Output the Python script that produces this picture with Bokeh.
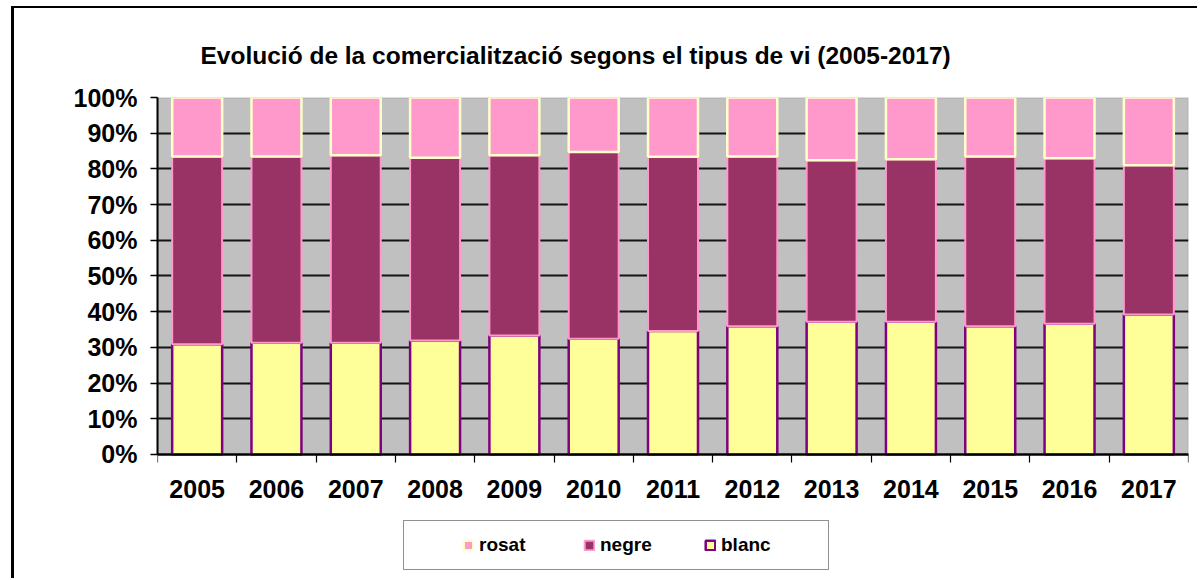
from bokeh.plotting import figure
from bokeh.models import (Range1d, FixedTicker, Legend, LegendItem, BoxAnnotation,
                          PrintfTickFormatter, ColumnDataSource)
from bokeh.embed import file_html
from bokeh.resources import INLINE

# ---- data (percent shares) ----
years = ["2005", "2006", "2007", "2008", "2009", "2010", "2011",
         "2012", "2013", "2014", "2015", "2016", "2017"]
blanc = [30.9, 31.3, 31.3, 31.9, 33.3, 32.4, 34.6, 35.9, 37.2, 37.2, 35.9, 36.6, 39.2]
negre = [52.6, 52.2, 52.5, 51.2, 50.5, 52.3, 48.8, 47.6, 45.2, 45.5, 47.6, 46.4, 41.8]
rosat = [16.5, 16.5, 16.2, 16.9, 16.2, 15.3, 16.6, 16.5, 17.6, 17.3, 16.5, 17.0, 19.0]
y_ticks = [0, 10, 20, 30, 40, 50, 60, 70, 80, 90, 100]
title_text = "Evolució de la comercialització segons el tipus de vi (2005-2017)"
series = ["blanc", "negre", "rosat"]

FONT = "Liberation Sans"

n = len(years)
xs = list(range(n))
source = ColumnDataSource(dict(x=xs, blanc=blanc, negre=negre, rosat=rosat))

# frame runs from the top of the plot area down to the bottom of the canvas,
# so the legend (below the plot area) lives inside the frame
p = figure(width=1186, height=572, output_backend="svg", toolbar_location=None,
           x_range=Range1d(-0.5, n - 0.5), y_range=Range1d(-35.3, 100),
           min_border_left=143, min_border_right=12, min_border_top=89,
           min_border_bottom=0)
p.styles = {"border-left": "3px solid black", "border-top": "2px solid black",
            "margin-left": "11px", "margin-top": "6px"}
p.background_fill_color = "white"
p.border_fill_color = "white"
p.outline_line_color = None

# plot area (0-100 %) grey background with grey top/right edge
p.add_layout(BoxAnnotation(bottom=0, top=100, fill_color="#C0C0C0", fill_alpha=1,
                           line_color="#808080", line_width=2, level="image"))

# title
p.title.text = title_text
p.title.align = "left"
p.title.offset = 43
p.title.standoff = 58
p.title.text_font = FONT
p.title.text_font_style = "bold"
p.title.text_font_size = "24.5px"
p.title.text_color = "black"

renderers = p.vbar_stack(series, x="x", width=0.63, source=source,
                         fill_color=["#FFFF99", "#993366", "#FF99CC"],
                         line_color=["#800080", "#FF99CC", "#FFFFCC"],
                         line_width=[2.5, 2, 2.5])

# y axis
p.yaxis.ticker = FixedTicker(ticks=y_ticks)
p.yaxis.bounds = (0, 100)
p.yaxis.formatter = PrintfTickFormatter(format="%d%%")
p.yaxis.axis_line_color = "black"
p.yaxis.axis_line_width = 2
p.yaxis.major_tick_out = 7
p.yaxis.major_tick_in = 0
p.yaxis.major_tick_line_width = 1.5
p.yaxis.minor_tick_line_color = None
p.yaxis.major_label_standoff = 13
p.yaxis.major_label_text_font = FONT
p.yaxis.major_label_text_font_style = "bold"
p.yaxis.major_label_text_font_size = "25px"
p.yaxis.major_label_text_color = "black"

# x axis (drawn at 0 %)
p.xaxis.fixed_location = 0
p.xaxis.ticker = FixedTicker(ticks=xs, minor_ticks=[i - 0.5 for i in range(n + 1)])
p.xaxis.major_label_overrides = {i: y for i, y in enumerate(years)}
p.xaxis.axis_line_color = "black"
p.xaxis.axis_line_width = 2
p.xaxis.major_tick_line_color = None
p.xaxis.major_tick_out = 0
p.xaxis.major_tick_in = 0
p.xaxis.minor_tick_out = 8
p.xaxis.minor_tick_in = 0
p.xaxis.minor_tick_line_color = "black"
p.xaxis.minor_tick_line_width = 1.2
p.xaxis.major_label_standoff = 18
p.xaxis.major_label_text_font = FONT
p.xaxis.major_label_text_font_style = "bold"
p.xaxis.major_label_text_font_size = "25px"
p.xaxis.major_label_text_color = "black"

p.xgrid.visible = False
p.ygrid.ticker = FixedTicker(ticks=y_ticks)
p.ygrid.grid_line_color = "black"
p.ygrid.grid_line_width = 2
p.ygrid.grid_line_alpha = 0.9

legend = Legend(items=[LegendItem(label="rosat", renderers=[renderers[2]]),
                       LegendItem(label="negre", renderers=[renderers[1]]),
                       LegendItem(label="blanc", renderers=[renderers[0]])],
                orientation="horizontal", location=(246, 10), margin=0,
                title=" ", title_location="left", title_standoff=44,
                title_text_font_size="1px",
                border_line_color="#222222", border_line_width=1.5,
                background_fill_color="white", background_fill_alpha=1,
                glyph_width=12, glyph_height=12, label_standoff=5, spacing=10,
                label_width=94, padding=13, label_height=20,
                label_text_font=FONT, label_text_font_style="bold",
                label_text_font_size="19px", label_text_color="black")
p.add_layout(legend)

open("out.html", "w").write(file_html(p, INLINE))
